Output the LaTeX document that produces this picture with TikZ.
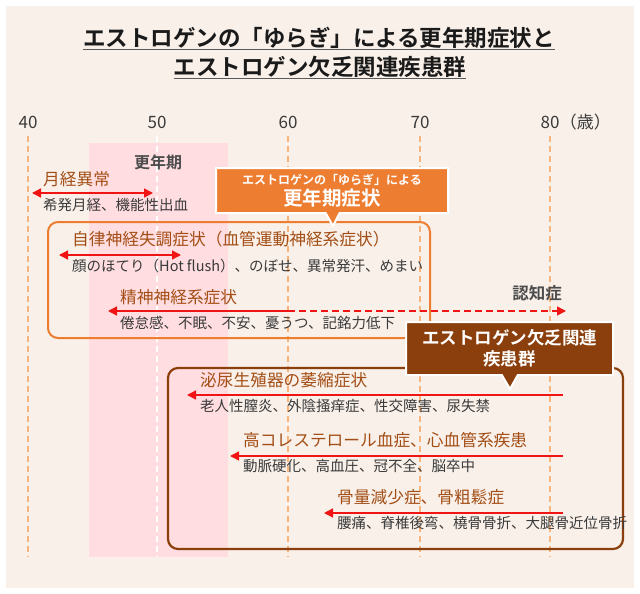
\documentclass[tikz,border=0pt]{standalone}
\usepackage{fontspec}
\setmainfont{Noto Sans CJK JP}[BoldFont={Noto Sans CJK JP Bold}]
\usepackage{tikz}
\usetikzlibrary{arrows.meta,shapes.callouts,positioning}
\definecolor{panelbg}{HTML}{F9F0E9}
\definecolor{bandpink}{HTML}{FFDDE0}
\definecolor{ageorange}{HTML}{F7B47C}
\definecolor{flucorange}{HTML}{ED7D31}
\definecolor{lackbrown}{HTML}{8A3F0C}
\definecolor{headbrown}{HTML}{A34E16}
\definecolor{textgray}{HTML}{3A3A3A}
\definecolor{titleblack}{HTML}{1A1A1A}
\definecolor{arrowred}{HTML}{F01414}
\tikzset{
    titletext/.style={
        font=\bfseries\fontsize{22.5}{24}\selectfont,
        text=titleblack,
        inner sep=0pt,
        text height=0.88em,
        text depth=0.12em,
    },
    titlerule/.style={
        draw=black!65,
        line width=1.3pt,
    },
    axislabel/.style={
        font=\fontsize{17}{19}\selectfont,
        text=textgray,
        inner sep=0pt,
        text height=0.88em,
        text depth=0.12em,
    },
    ageline/.style={
        draw=ageorange,
        line width=1.3pt,
        dash pattern=on 6pt off 4pt,
        shorten <=6pt,
    },
    bandlabel/.style={
        font=\bfseries\fontsize{16}{18}\selectfont,
        text=black!70,
        inner sep=0pt,
    },
    symhead/.style={
        anchor=west,
        font=\fontsize{16.7}{18}\selectfont,
        text=headbrown,
        inner sep=0pt,
        text height=0.88em,
        text depth=0.12em,
    },
    symdesc/.style={
        anchor=west,
        font=\fontsize{14.5}{16}\selectfont,
        text=textgray,
        inner sep=0pt,
        text height=0.88em,
        text depth=0.12em,
    },
    spanline/.style={
        draw=arrowred,
        line width=1.4pt,
    },
    spanboth/.style={
        spanline,
        {Triangle[length=9pt,width=9pt]}-{Triangle[length=9pt,width=9pt]},
    },
    spanto/.style={
        spanline,
        -{Triangle[length=9pt,width=9pt]},
    },
    flucframe/.style={
        rectangle,
        rounded corners=10pt,
        draw=flucorange,
        line width=2pt,
    },
    lackframe/.style={
        rectangle,
        rounded corners=10pt,
        draw=lackbrown,
        line width=2.2pt,
    },
    flucall/.style={
        rectangle callout,
        fill=flucorange,
        draw=white,
        line width=2pt,
        text=white,
        align=center,
        inner sep=0pt,
        callout pointer width=14pt,
        font=\bfseries\fontsize{12}{21}\selectfont,
    },
    lackcall/.style={
        rectangle callout,
        fill=lackbrown,
        draw=white,
        line width=2pt,
        text=white,
        align=center,
        inner sep=0pt,
        callout pointer width=16pt,
        font=\bfseries\fontsize{17.5}{21}\selectfont,
    },
    notelabel/.style={
        font=\bfseries\fontsize{16.5}{18}\selectfont,
        text=black!70,
        inner sep=0pt,
    },
}
\begin{document}
\begin{tikzpicture}[x=1pt,y=-1pt]
    \useasboundingbox (0,0) rectangle (640,594);
    \fill[panelbg] (6,6) rectangle (634,588);
    \fill[bandpink] (89,143) rectangle (228,557);

    % title
    \node[titletext] (titleA) at (319,43) {エストロゲンの「ゆらぎ」による更年期症状と};
    \node[titletext] (titleB) at (320,72) {エストロゲン欠乏関連疾患群};
    \draw[titlerule] ([yshift=-1.5pt]titleA.south west) -- ([yshift=-1.5pt]titleA.south east);
    \draw[titlerule] ([yshift=-1.5pt]titleB.south west) -- ([yshift=-1.5pt]titleB.south east);

    % age axis
    \node[axislabel] (ax40) at (28,125) {40};
    \node[axislabel] (ax50) at (157,125) {50};
    \node[axislabel] (ax60) at (288,125) {60};
    \node[axislabel] (ax70) at (420,125) {70};
    \node[axislabel] (ax80) at (550,125) {80};
    \node[axislabel, anchor=west] (axYears) at (ax80.east) {（歳）};
    \coordinate (end40) at (28,557);
    \coordinate (end50) at (157,557);
    \coordinate (end60) at (288,557);
    \coordinate (end70) at (420,557);
    \coordinate (end80) at (550,557);
    \draw[ageline] (ax40.south) -- (end40);
    \draw[ageline, draw=white] (ax50.south) -- (end50);
    \draw[ageline] (ax60.south) -- (end60);
    \draw[ageline] (ax70.south) -- (end70);
    \draw[ageline] (ax80.south) -- (end80);

    \node[bandlabel] (bandName) at (158,162) {更年期};

    % frames
    \node[flucframe, minimum width=382pt, minimum height=116pt] (fluctFrame) at (239,280) {};
    \node[lackframe, minimum width=455pt, minimum height=181pt] (lackFrame) at (395.5,458.5) {};

    % fluctuation symptoms
    \node[symhead] (mensHead) at (43,182) {月経異常};
    \node[symdesc] (mensDesc) at ([yshift=-25pt]mensHead.west) {希発月経、機能性出血};
    \coordinate (mensL) at (32,193);
    \coordinate (mensR) at (153,193);
    \draw[spanboth] (mensL) -- (mensR);

    \node[symhead] (autoHead) at (72,242) {自律神経失調症状（血管運動神経系症状）};
    \node[symdesc] (autoDesc) at ([yshift=-26pt]autoHead.west) {顔のほてり（Hot flush）、のぼせ、異常発汗、めまい};
    \coordinate (autoL) at (59,255);
    \coordinate (autoR) at (181,255);
    \draw[spanboth] (autoL) -- (autoR);

    \node[symhead] (psyHead) at (120,300) {精神神経系症状};
    \node[symdesc] (psyDesc) at ([yshift=-25pt]psyHead.west) {倦怠感、不眠、不安、憂うつ、記銘力低下};
    \coordinate (psyL) at (108,311);
    \coordinate (psyM) at (288,311);
    \coordinate (psyR) at (566,311);
    \draw[spanto] (psyM) -- (psyL);
    \draw[spanto, dash pattern=on 7pt off 4pt] (psyM) -- (psyR);
    \node[notelabel] (dementia) at (537,293) {認知症};

    % deficiency diseases
    \node[symhead] (urinHead) at (200,383) {泌尿生殖器の萎縮症状};
    \node[symdesc] (urinDesc) at ([yshift=-25pt]urinHead.west) {老人性膣炎、外陰掻痒症、性交障害、尿失禁};
    \coordinate (urinL) at (187,395);
    \coordinate (urinR) at (563,395);
    \draw[spanto] (urinR) -- (urinL);

    \node[symhead] (cardHead) at (243,443) {高コレステロール血症、心血管系疾患};
    \node[symdesc] (cardDesc) at ([yshift=-25pt]cardHead.west) {動脈硬化、高血圧、冠不全、脳卒中};
    \coordinate (cardL) at (230,456);
    \coordinate (cardR) at (563,456);
    \draw[spanto] (cardR) -- (cardL);

    \node[symhead] (boneHead) at (337,500) {骨量減少症、骨粗鬆症};
    \node[symdesc] (boneDesc) at ([yshift=-25pt]boneHead.west) {腰痛、脊椎後弯、橈骨骨折、大腿骨近位骨折};
    \coordinate (boneL) at (324,513);
    \coordinate (boneR) at (563,513);
    \draw[spanto] (boneR) -- (boneL);

    % callouts
    \coordinate (fluctTip) at (333,226);
    \node[flucall, callout absolute pointer={(fluctTip)}, minimum width=232pt, minimum height=45pt] (fluctCall) at (332,190.5)
        {エストロゲンの「ゆらぎ」による\\{\fontsize{19.5}{21}\selectfont 更年期症状}};
    \coordinate (lackTip) at (510,389);
    \node[lackcall, callout absolute pointer={(lackTip)}, minimum width=207pt, minimum height=53pt] (lackCall) at (509.5,348.5)
        {エストロゲン欠乏関連\\疾患群};
\end{tikzpicture}
\end{document}
